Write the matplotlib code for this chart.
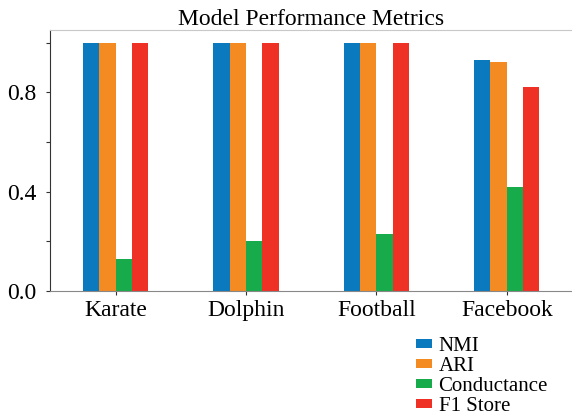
import matplotlib
matplotlib.use('Agg')
import matplotlib.pyplot as plt
import numpy as np

# 数据
datasets = ['Karate', 'Dolphin', 'Football', 'Facebook']
metrics = ['NMI', 'ARI', 'Conductance', 'F1 Store']
nmi = [1.0, 1.0, 1.0, 0.93]
ari = [1.0, 1.0, 1.0, 0.92]
conductance = [0.13, 0.20, 0.23, 0.42]
f1 = [1.0, 1.0, 1.0, 0.82]
colors = ['#0a79bd', '#f38b22', '#18ab4b', '#ee3025']

plt.rcParams['font.family'] = ['Liberation Serif', 'DejaVu Serif']

fig = plt.figure(figsize=(5.72, 4.19), dpi=100)
ax = fig.add_axes([0.088, 0.305, 0.912, 0.623])

x = np.arange(len(datasets))
width = 0.125
series = [nmi, ari, conductance, f1]
for i, (vals, name) in enumerate(zip(series, metrics)):
    ax.bar(x + (i - 1.5) * width, vals, width, color=colors[i], label=name)

ax.set_xlim(-0.5, 3.5)
ax.set_ylim(0, 1.05)
ax.set_xticks(x)
ax.set_xticklabels(datasets, fontsize=17)
ax.set_yticks([0.0, 0.4, 0.8])
ax.set_yticks([0.2, 0.6, 1.0], minor=True)
ax.set_yticklabels(['0.0', '0.4', '0.8'], fontsize=17)
ax.tick_params(axis='y', which='both', length=3, width=0.8, color='#333333', pad=7)
ax.tick_params(axis='x', length=3, width=0.8, color='#333333', pad=3)
ax.set_title('Model Performance Metrics', fontsize=17, pad=3)

ax.spines['left'].set_color('#333333')
ax.spines['bottom'].set_color('#888888')
ax.spines['top'].set_color('#c8c8c8')
ax.spines['right'].set_visible(False)

handles, labels = ax.get_legend_handles_labels()
fig.legend(handles, labels, loc='upper left', bbox_to_anchor=(0.712, 0.215),
           frameon=False, fontsize=15, handlelength=0.8, handleheight=0.3,
           handletextpad=0.3, labelspacing=0.05, borderaxespad=0)

fig.savefig('out.png', dpi=100)
